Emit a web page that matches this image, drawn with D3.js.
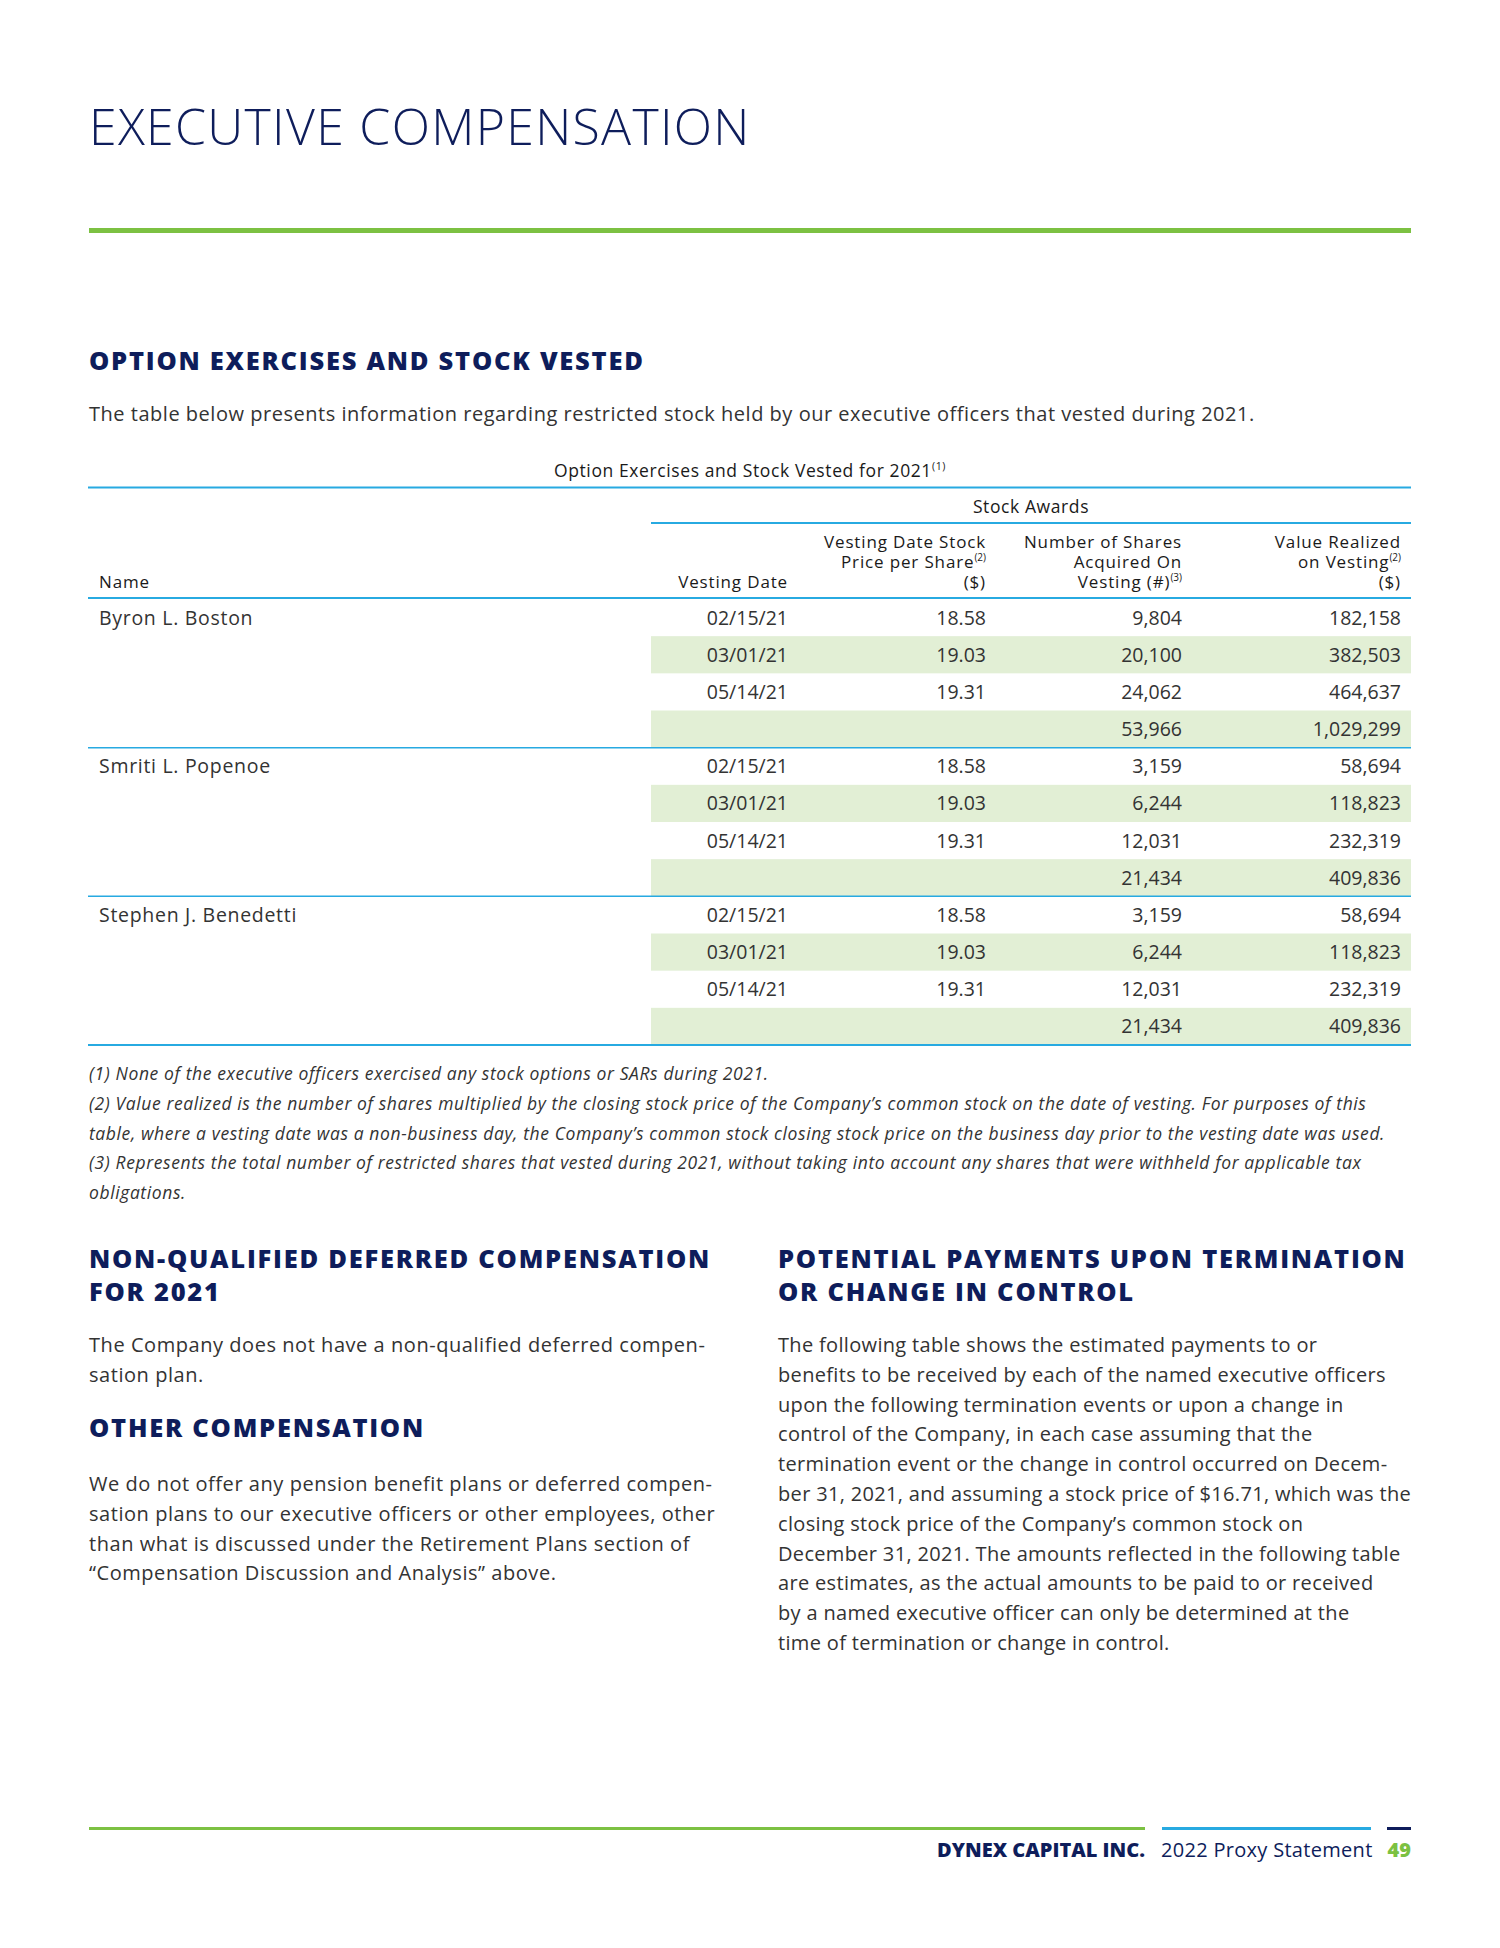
<!DOCTYPE html>
<html><head><meta charset="utf-8">
<script src="https://cdn.jsdelivr.net/npm/d3@7"></script>
<style>
html,body{margin:0;padding:0;background:#fff;}
svg{display:block;}
text{font-family:"Open Sans",sans-serif;}
</style></head>
<body>
<svg id="page" width="1500" height="1948"></svg>
<script>
// ---------- DATA ----------
const names = ["Byron L. Boston", "Smriti L. Popenoe", "Stephen J. Benedetti"];
const vestingDates = ["02/15/21", "03/01/21", "05/14/21"];
const pricePerShare = [18.58, 19.03, 19.31];
const sharesAcquired = [[9804, 20100, 24062], [3159, 6244, 12031], [3159, 6244, 12031]];
const valueRealized = [[182158, 382503, 464637], [58694, 118823, 232319], [58694, 118823, 232319]];
const totalShares = [53966, 21434, 21434];
const totalValue = [1029299, 409836, 409836];
const columnKeys = ["date", "price", "shares", "value"];
const headerLines = {
  date: [["Vesting Date", ""]],
  price: [["Vesting Date Stock", ""], ["Price per Share", "(2)"], ["($)", ""]],
  shares: [["Number of Shares", ""], ["Acquired On", ""], ["Vesting (#)", "(3)"]],
  value: [["Value Realized", ""], ["on Vesting", "(2)"], ["($)", ""]]
};
const footnotes = [
  "(1) None of the executive officers exercised any stock options or SARs during 2021.",
  "(2) Value realized is the number of shares multiplied by the closing stock price of the Company\u2019s common stock on the date of vesting. For purposes of this",
  "table, where a vesting date was a non-business day, the Company\u2019s common stock closing stock price on the business day prior to the vesting date was used.",
  "(3) Represents the total number of restricted shares that vested during 2021, without taking into account any shares that were withheld for applicable tax",
  "obligations."
];
const leftPara1 = ["The Company does not have a non-qualified deferred compen-", "sation plan."];
const leftPara2 = ["We do not offer any pension benefit plans or deferred compen-",
  "sation plans to our executive officers or other employees, other",
  "than what is discussed under the Retirement Plans section of",
  "\u201cCompensation Discussion and Analysis\u201d above."];
const rightPara = ["The following table shows the estimated payments to or",
  "benefits to be received by each of the named executive officers",
  "upon the following termination events or upon a change in",
  "control of the Company, in each case assuming that the",
  "termination event or the change in control occurred on Decem-",
  "ber 31, 2021, and assuming a stock price of $16.71, which was the",
  "closing stock price of the Company\u2019s common stock on",
  "December 31, 2021. The amounts reflected in the following table",
  "are estimates, as the actual amounts to be paid to or received",
  "by a named executive officer can only be determined at the",
  "time of termination or change in control."];

// ---------- STYLE ----------
const NAVY = "#0e1d5b", GREEN = "#7cc142", BLUE = "#27aae1", BAND = "#e2efd5", TXT = "#333333", HDR = "#1a1a1a";
const L = 89, R = 1411, tableLeft = 651;

const svg = d3.select("#page");
svg.append("rect").attr("width", 1500).attr("height", 1948).attr("fill", "#fff");

// Title
svg.append("text").attr("x", L).attr("y", 145).attr("fill", NAVY)
  .attr("font-size", 50).attr("font-weight", 300).attr("letter-spacing", 1.3).text("EXECUTIVE COMPENSATION");
svg.append("rect").attr("x", L).attr("y", 228).attr("width", R - L).attr("height", 5).attr("fill", GREEN);

// heading helper (multi-line in one text element)
const heading = (x, y0, lines) => {
  const t = svg.append("text").attr("x", x).attr("y", y0).attr("fill", NAVY)
    .attr("font-size", 25.5).attr("font-weight", 800).attr("letter-spacing", 1.75);
  lines.forEach((ln, i) => t.append("tspan").attr("x", x).attr("dy", i === 0 ? 0 : 33).text(ln));
};
const para = (x, y0, lines, ls) => svg.append("g").attr("fill", TXT).attr("font-size", 20).attr("letter-spacing", ls)
  .selectAll("text").data(lines).join("text").attr("x", x).attr("y", (d, i) => y0 + i * 29.8).text(d => d);

// Section heading
heading(L, 370, ["OPTION EXERCISES AND STOCK VESTED"]);
para(L, 421, ["The table below presents information regarding restricted stock held by our executive officers that vested during 2021."], 0.52);

// Table caption
const cap = svg.append("text").attr("x", 750).attr("y", 477).attr("text-anchor", "middle")
  .attr("fill", HDR).attr("font-size", 17.5).attr("font-weight", 500).attr("letter-spacing", 0.6);
cap.append("tspan").text("Option Exercises and Stock Vested for 2021");
cap.append("tspan").attr("font-size", 10.5).attr("dy", -7).text("(1)");

// Rules
const hline = (x1, x2, y, w) => svg.append("line").attr("x1", x1).attr("x2", x2)
  .attr("y1", y).attr("y2", y).attr("stroke", BLUE).attr("stroke-width", w);

// Rows
const rows = [];
names.forEach((n, g) => {
  vestingDates.forEach((d, i) => rows.push({group: g, name: i === 0 ? n : "", date: d,
    price: pricePerShare[i], shares: sharesAcquired[g][i], value: valueRealized[g][i], total: false}));
  rows.push({group: g, name: "", date: "", price: null, shares: totalShares[g], value: totalValue[g], total: true});
});

const y = d3.scaleBand().domain(d3.range(rows.length)).range([599, 1045]);
const colRight = d3.scaleOrdinal().domain(columnKeys).range([788, 986, 1182, 1401]);
const fmtInt = d3.format(",");
const fmtPrice = d3.format(".2f");

// bands on odd rows
svg.append("g").selectAll("rect").data(d3.range(rows.length).filter(i => i % 2 === 1))
  .join("rect").attr("x", tableLeft).attr("width", R - tableLeft)
  .attr("y", i => y(i)).attr("height", y.bandwidth()).attr("fill", BAND);

hline(L - 1, R, 487.5, 2);
hline(tableLeft, R, 523, 2);
hline(L - 1, R, 598, 2);
[1, 2].forEach(g => hline(L - 1, R, y(g * 4), 1.5));
hline(L - 1, R, 1045, 2);

svg.append("text").attr("x", (tableLeft + R) / 2).attr("y", 513).attr("text-anchor", "middle")
  .attr("fill", HDR).attr("font-size", 17.5).attr("font-weight", 500).attr("letter-spacing", 0.6).text("Stock Awards");

// Header (one text per line)
const hdr = svg.append("g").attr("fill", HDR).attr("font-size", 17).attr("font-weight", 500).attr("letter-spacing", 0.85);
hdr.append("text").attr("x", 99).attr("y", 588).text("Name");
columnKeys.forEach(k => {
  const lines = headerLines[k];
  lines.forEach((ln, j) => {
    const t = hdr.append("text").attr("x", colRight(k)).attr("y", 588 - (lines.length - 1 - j) * 20)
      .attr("text-anchor", "end");
    t.append("tspan").text(ln[0]);
    if (ln[1]) t.append("tspan").attr("font-size", 10).attr("dy", -7).attr("letter-spacing", 0).text(ln[1]);
  });
});

// Cells
const body = svg.append("g").attr("fill", TXT).attr("font-size", 19.5);
rows.forEach((r, i) => {
  const by = y(i) + y.bandwidth() / 2 + 7;
  if (r.name) body.append("text").attr("x", 99).attr("y", by).attr("letter-spacing", 0.7).text(r.name);
  const vals = {date: r.date, price: r.price == null ? "" : fmtPrice(r.price),
    shares: fmtInt(r.shares), value: fmtInt(r.value)};
  columnKeys.forEach(k => {
    if (vals[k]) body.append("text").attr("x", colRight(k)).attr("y", by)
      .attr("text-anchor", "end").text(vals[k]);
  });
});

// Footnotes
svg.append("g").attr("fill", TXT).attr("font-size", 17.5).attr("font-style", "italic").attr("letter-spacing", 0.6)
  .selectAll("text").data(footnotes).join("text")
  .attr("x", L).attr("y", (d, i) => 1080 + i * 29.8).text(d => d);

// Two-column section
const RX = 778;
heading(L, 1268, ["NON-QUALIFIED DEFERRED COMPENSATION", "FOR 2021"]);
para(L, 1352, leftPara1, 0.55);
heading(L, 1437, ["OTHER COMPENSATION"]);
para(L, 1491, leftPara2, 0.55);
heading(RX, 1268, ["POTENTIAL PAYMENTS UPON TERMINATION", "OR CHANGE IN CONTROL"]);
para(RX, 1352, rightPara, 0.33);

// Footer
svg.append("rect").attr("x", L).attr("y", 1827).attr("width", 1145 - L).attr("height", 3).attr("fill", GREEN);
svg.append("rect").attr("x", 1162).attr("y", 1827).attr("width", 1371 - 1162).attr("height", 3).attr("fill", BLUE);
svg.append("rect").attr("x", 1387).attr("y", 1827).attr("width", 1411 - 1387).attr("height", 3).attr("fill", NAVY);
svg.append("text").attr("x", 1145).attr("y", 1857).attr("text-anchor", "end").attr("fill", NAVY)
  .attr("font-size", 20).attr("font-weight", 800).text("DYNEX CAPITAL INC.");
svg.append("text").attr("x", 1161).attr("y", 1857).attr("fill", NAVY)
  .attr("font-size", 20).attr("letter-spacing", 0.3).text("2022 Proxy Statement");
svg.append("text").attr("x", 1411).attr("y", 1857).attr("text-anchor", "end").attr("fill", GREEN)
  .attr("font-size", 20).attr("font-weight", 800).text("49");
</script>
</body></html>
